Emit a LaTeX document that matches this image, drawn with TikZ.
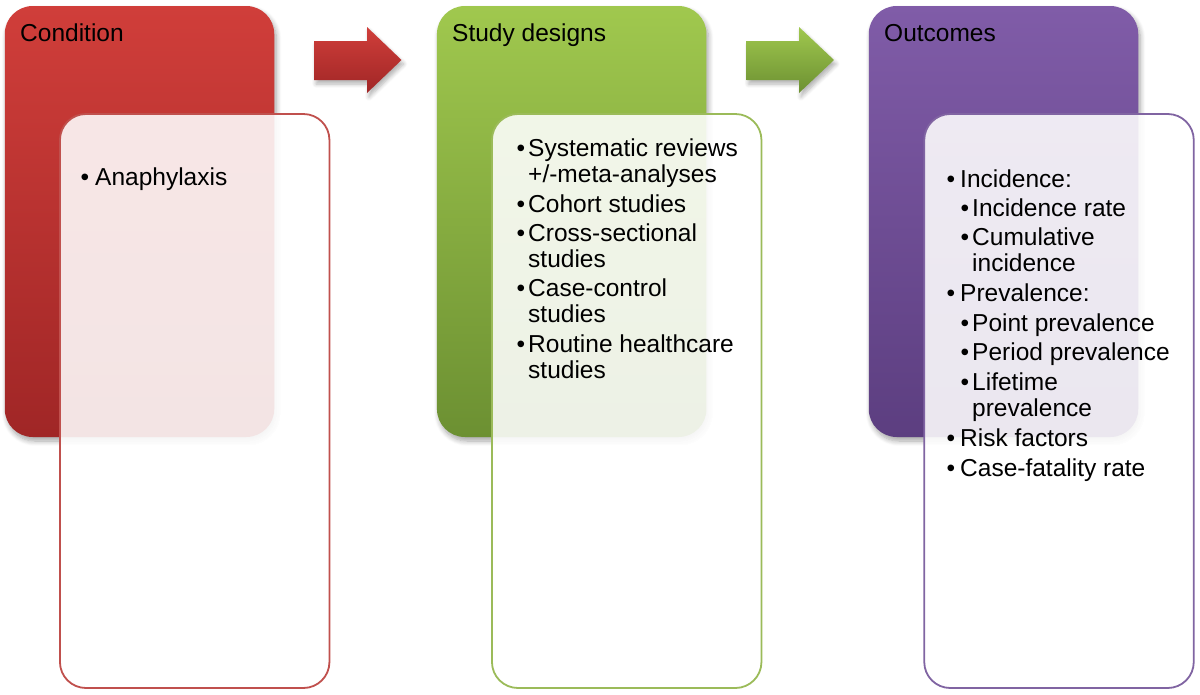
\documentclass[tikz,border=0pt]{standalone}
\usepackage{fontspec}
\setmainfont{Liberation Sans}
\usetikzlibrary{shadows.blur}
\definecolor{redA}{RGB}{208,62,58}
\definecolor{redB}{RGB}{160,38,38}
\definecolor{redL}{RGB}{192,80,77}
\definecolor{grnA}{RGB}{160,200,78}
\definecolor{grnB}{RGB}{108,144,50}
\definecolor{grnL}{RGB}{155,187,89}
\definecolor{purA}{RGB}{128,92,168}
\definecolor{purB}{RGB}{92,62,128}
\definecolor{purL}{RGB}{128,100,162}
\begin{document}
\begin{tikzpicture}[x=1pt,y=-1pt,
  bigbox/.style={rounded corners=28pt, minimum width=269.5pt, minimum height=431pt, inner sep=0pt,
    blur shadow={shadow xshift=2pt, shadow yshift=-4pt, shadow blur steps=8, shadow opacity=35, shadow blur radius=5pt}},
  listbox/.style={rounded corners=26pt, minimum width=269.5pt, minimum height=574pt, inner sep=0pt,
    line width=1.8pt, fill=white, fill opacity=0.88, draw opacity=1},
  arrowshape/.style={blur shadow={shadow xshift=2pt, shadow yshift=-4pt, shadow blur steps=6, shadow opacity=30, shadow blur radius=4pt}},
  txt/.style={anchor=base west, inner sep=0pt, font=\fontsize{24.5}{28}\selectfont},
  bul/.style={anchor=base, inner sep=0pt, font=\fontsize{24.5}{28}\selectfont}
]
\useasboundingbox (0,0) rectangle (1200,694);

% ---------- Condition ----------
\node[bigbox, top color=redA, bottom color=redB] (cBox) at (139.5,221.5) {};
\node[listbox, draw=redL] (cList) at (194.7,401) {};
\node[txt] (cTitle) at (20,41) {Condition};
\node[bul] (cb1) at (85,185) {•};
\node[txt] (c1) at (95,185) {Anaphylaxis};

% arrow 1
\path[arrowshape, top color=redA, bottom color=redB]
  (314,41) -- (367,41) -- (367,27) -- (401.5,60) -- (367,93) -- (367,80) -- (314,80) -- cycle;

% ---------- Study designs ----------
\node[bigbox, top color=grnA, bottom color=grnB] (sBox) at (571.7,221.5) {};
\node[listbox, draw=grnL] (sList) at (626.7,401) {};
\node[txt] (sTitle) at (452,41) {Study designs};
\node[bul] (sb1) at (521,156) {•};
\node[txt] (s1) at (528,156) {Systematic reviews};
\node[txt] (s1b) at (528,182) {+/-meta-analyses};
\node[bul] (sb2) at (521,212) {•};
\node[txt] (s2) at (528,212) {Cohort studies};
\node[bul] (sb3) at (521,241) {•};
\node[txt] (s3) at (528,241) {Cross-sectional};
\node[txt] (s3b) at (528,267) {studies};
\node[bul] (sb4) at (521,296) {•};
\node[txt] (s4) at (528,296) {Case-control};
\node[txt] (s4b) at (528,322) {studies};
\node[bul] (sb5) at (521,352) {•};
\node[txt] (s5) at (528,352) {Routine healthcare};
\node[txt] (s5b) at (528,378) {studies};

% arrow 2
\path[arrowshape, top color=grnA, bottom color=grnB]
  (746.5,41) -- (799,41) -- (799,27) -- (834,60) -- (799,93) -- (799,80) -- (746.5,80) -- cycle;

% ---------- Outcomes ----------
\node[bigbox, top color=purA, bottom color=purB] (oBox) at (1003.5,221.5) {};
\node[listbox, draw=purL] (oList) at (1059,401) {};
\node[txt] (oTitle) at (884,41) {Outcomes};
\node[bul] (ob1) at (951,187) {•};
\node[txt] (o1) at (960,187) {Incidence:};
\node[bul] (ob2) at (965,216) {•};
\node[txt] (o2) at (972,216) {Incidence rate};
\node[bul] (ob3) at (965,245) {•};
\node[txt] (o3) at (972,245) {Cumulative};
\node[txt] (o3b) at (972,271) {incidence};
\node[bul] (ob4) at (951,301) {•};
\node[txt] (o4) at (960,301) {Prevalence:};
\node[bul] (ob5) at (965,331) {•};
\node[txt] (o5) at (972,331) {Point prevalence};
\node[bul] (ob6) at (965,360) {•};
\node[txt] (o6) at (972,360) {Period prevalence};
\node[bul] (ob7) at (965,390) {•};
\node[txt] (o7) at (972,390) {Lifetime};
\node[txt] (o7b) at (972,416) {prevalence};
\node[bul] (ob8) at (951,446) {•};
\node[txt] (o8) at (960,446) {Risk factors};
\node[bul] (ob9) at (951,476) {•};
\node[txt] (o9) at (960,476) {Case-fatality rate};
\end{tikzpicture}
\end{document}
